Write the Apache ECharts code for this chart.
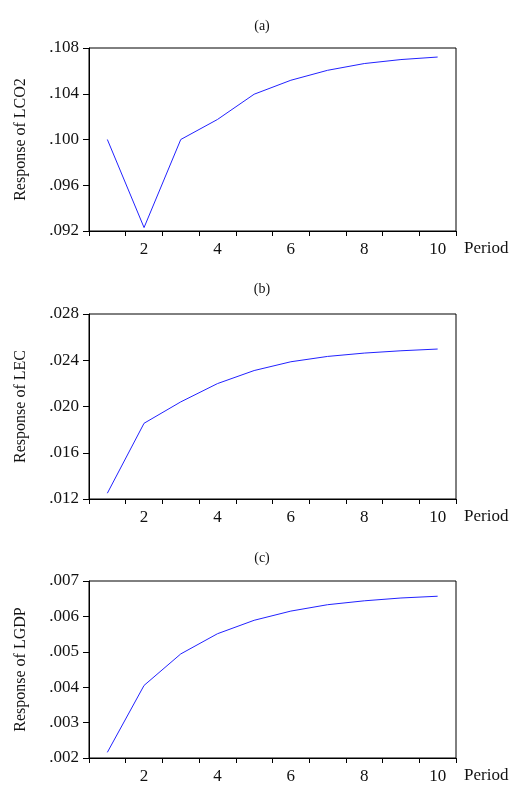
<!DOCTYPE html>
<html>
<head>
<meta charset="utf-8">
<script src="https://cdn.jsdelivr.net/npm/echarts@6/dist/echarts.min.js"></script>
<style>html,body{margin:0;padding:0;background:#fff}#c{width:524px;height:785px}</style>
</head>
<body>
<div id="c"></div>
<script>
const periods = ['1','2','3','4','5','6','7','8','9','10'];
const respLCO2 = [0.1000, 0.0923, 0.1000, 0.10175, 0.10396, 0.10518, 0.10605, 0.10664, 0.10699, 0.10721];
const respLEC  = [0.0125, 0.01855, 0.0204, 0.02198, 0.02311, 0.02387, 0.02433, 0.02462, 0.02482, 0.02497];
const respLGDP = [0.00216, 0.00405, 0.00494, 0.00551, 0.00589, 0.00615, 0.00633, 0.00644, 0.00652, 0.00657];
const panelTitles = ['(a)', '(b)', '(c)'];
const yNames = ['Response of LCO2', 'Response of LEC', 'Response of LGDP'];
const yRanges = [[0.092, 0.108, 0.004], [0.012, 0.028, 0.004], [0.002, 0.007, 0.001]];
const xName = 'Period';

const FONT = 'Liberation Serif';
const series = [respLCO2, respLEC, respLGDP];
const grids = [
  {left: 89, top: 48, width: 367, height: 183},
  {left: 89, top: 314, width: 367, height: 185},
  {left: 89, top: 581, width: 367, height: 183}
];
const titleTops = [19, 282, 551];

const option = {
  animation: false,
  backgroundColor: '#fff',
  title: panelTitles.map((t, i) => ({
    text: t, left: 'center', top: titleTops[i], padding: 0,
    textStyle: {fontFamily: FONT, fontSize: 14, fontWeight: 'normal', color: '#111'}
  })),
  grid: grids.map(g => Object.assign({show: true, borderColor: '#000', borderWidth: 1, backgroundColor: 'transparent'}, g)),
  xAxis: series.map((s, i) => ({
    type: 'category', gridIndex: i, data: periods, boundaryGap: true,
    name: xName, nameLocation: 'end', nameGap: 8,
    nameTextStyle: {fontFamily: FONT, fontSize: 17, color: '#111', verticalAlign: 'top', padding: [9, 0, 0, 0]},
    axisLine: {lineStyle: {color: '#000', width: 1}},
    axisTick: {show: true, interval: 0, alignWithLabel: false, length: 5, lineStyle: {color: '#000'}},
    axisLabel: {interval: (idx) => idx % 2 === 1, fontFamily: FONT, fontSize: 17, color: '#111', margin: 10},
    splitLine: {show: false}
  })),
  yAxis: series.map((s, i) => ({
    type: 'value', gridIndex: i,
    min: yRanges[i][0], max: yRanges[i][1], interval: yRanges[i][2],
    name: yNames[i], nameLocation: 'middle', nameGap: 60, nameRotate: 90,
    nameTextStyle: {fontFamily: FONT, fontSize: 16, color: '#111'},
    axisLine: {show: true, lineStyle: {color: '#000', width: 1}},
    axisTick: {show: true, length: 6, lineStyle: {color: '#000'}},
    axisLabel: {fontFamily: FONT, fontSize: 17, color: '#111', margin: 10,
      formatter: v => v.toFixed(3).replace(/^0/, '')},
    splitLine: {show: false}
  })),
  series: series.map((s, i) => ({
    type: 'line', xAxisIndex: i, yAxisIndex: i, data: s,
    showSymbol: false, symbol: 'none',
    lineStyle: {color: '#2222ff', width: 1}
  }))
};
echarts.init(document.getElementById('c')).setOption(option);
</script>
</body>
</html>
